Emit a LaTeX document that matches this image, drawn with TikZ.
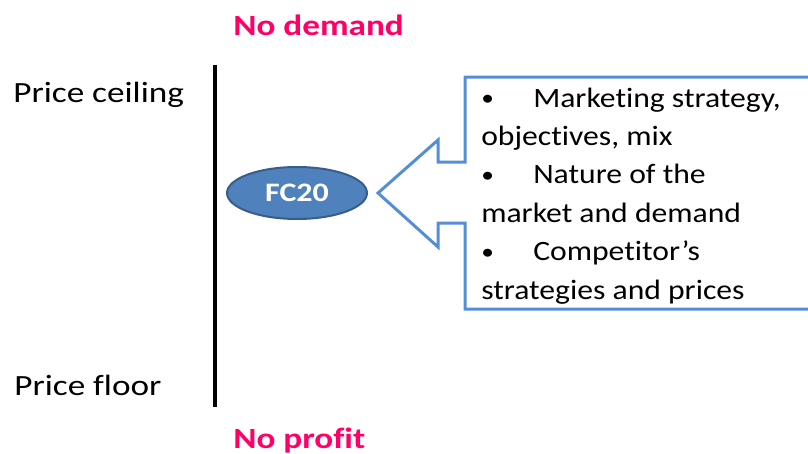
\documentclass[tikz,border=0pt]{standalone}
\usepackage{fontspec}
\setmainfont{Carlito}[RawFeature={-liga;-clig;-calt;-dlig}]
\usetikzlibrary{shapes.geometric}
\definecolor{hotpink}{HTML}{FF0066}
\definecolor{fcblue}{HTML}{4F81BD}
\definecolor{fcedge}{HTML}{385D8A}
\definecolor{boxblue}{HTML}{558ED5}
\tikzset{
  limit/.style={anchor=base west, inner sep=0pt, xscale=1.2, font=\fontsize{22}{26}\selectfont},
  warn/.style={limit, text=hotpink, font=\fontsize{22}{26}\selectfont\bfseries},
  factor/.style={ellipse, fill=fcblue, draw=fcedge, line width=1.5pt, text=white, inner sep=0pt,
    minimum width=87.5pt, minimum height=39pt, xscale=1.2, font=\fontsize{20}{24}\selectfont\bfseries},
  items/.style={anchor=base west, inner sep=0pt, xscale=1.13, align=left, font=\fontsize{21}{28.8}\selectfont},
  callout/.style={draw=boxblue, line width=2.25pt, line join=miter}
}
\newcommand{\itembullet}{\makebox[34.5pt][l]{\raisebox{1pt}{\scalebox{0.8}{\textbullet}}}}
\begin{document}
\begin{tikzpicture}[x=0.75pt, y=-0.75pt]
  \useasboundingbox (0,0) rectangle (808,454);
  \clip (0,0) rectangle (808,454);

  \coordinate (top) at (215,65);
  \coordinate (bottom) at (215,407);
  \draw [line width=3pt] (top)--(bottom);

  \node [limit] (ceiling) at (13,102) {Price ceiling};
  \node [limit] (floor) at (14,395) {Price floor};
  \node [warn] (nodemand) at (233,35) {No demand};
  \node [warn] (noprofit) at (233,448) {No profit};

  \node [factor] (fc) at (297,193) {FC20};

  \draw [callout] (812,77)--(465,77)--(465,162)--(438,162)--(438,140)--(378,193)
    --(438,247)--(438,223)--(465,223)--(465,309)--(812,309);
  % base of a multi-line node is its last line
  \node [items] (reasons) at (481,299) {\itembullet Marketing strategy,\\
    objectives, mix\\
    \itembullet Nature of the\\
    market and demand\\
    \itembullet Competitor’s\\
    strategies and prices};
\end{tikzpicture}
\end{document}
